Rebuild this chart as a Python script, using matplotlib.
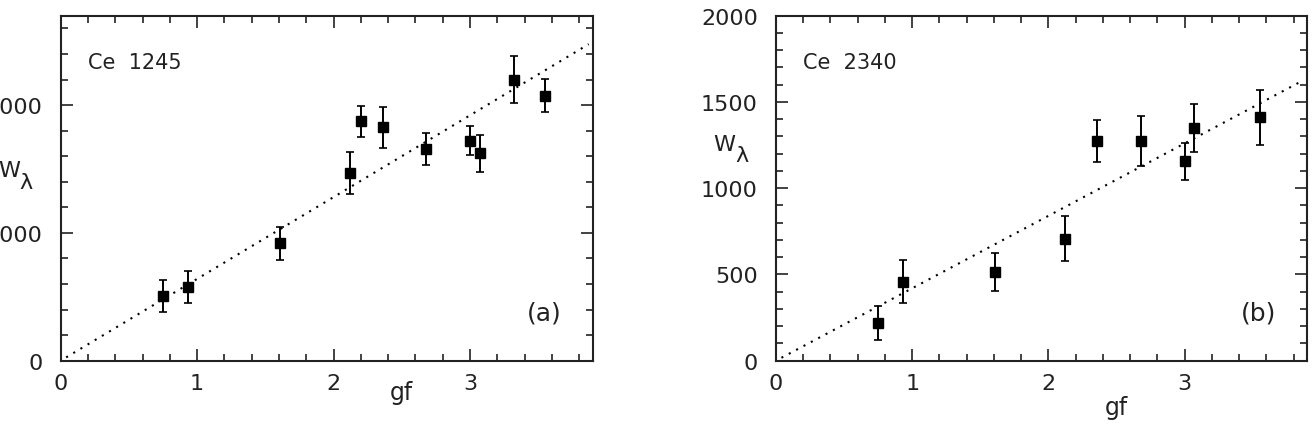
import matplotlib
matplotlib.use("Agg")
import matplotlib.pyplot as plt
from matplotlib.ticker import MultipleLocator

plt.rcParams['font.family'] = ['DejaVu Sans']

# ---- data ----
gf_a = [0.75, 0.93, 1.61, 2.12, 2.20, 2.36, 2.68, 3.00, 3.07, 3.32, 3.55]
W_a = [510, 575, 918, 1466, 1873, 1826, 1657, 1722, 1625, 2199, 2074]
err_a = [125, 125, 128, 165, 123, 163, 127, 115, 145, 184, 128]

gf_b = [0.75, 0.93, 1.61, 2.12, 2.36, 2.68, 3.00, 3.07, 3.55]
W_b = [218, 458, 516, 706, 1275, 1275, 1156, 1349, 1411]
err_b = [100, 123, 109, 130, 123, 145, 107, 137, 158]

fit_gf = [0.04, 3.87]
fit_a = [26, 2477]
fit_b = [17, 1625]

titles = ["Ce  1245", "Ce  2340"]
panel_tags = ["(a)", "(b)"]

FS = 16
COL = '#222222'

fig = plt.figure(figsize=(13.15, 4.27), dpi=100)
ax_a = fig.add_axes([0.04616, 0.1529, 0.4046, 0.8080])
ax_b = fig.add_axes([0.5901, 0.1529, 0.4040, 0.8080])

def style(ax, ymax, ymajor, yminor):
    ax.set_xlim(0, 3.9)
    ax.set_ylim(0, ymax)
    ax.xaxis.set_major_locator(MultipleLocator(1))
    ax.xaxis.set_minor_locator(MultipleLocator(0.2))
    ax.yaxis.set_major_locator(MultipleLocator(ymajor))
    ax.yaxis.set_minor_locator(MultipleLocator(yminor))
    ax.tick_params(which='both', direction='in', top=True, right=True,
                   color=COL, width=1.2, labelsize=FS, labelcolor=COL)
    ax.tick_params(which='major', length=8.6)
    ax.tick_params(which='minor', length=5)
    ax.tick_params(axis='y', pad=13)
    ax.tick_params(axis='x', pad=9)
    for s in ax.spines.values():
        s.set_linewidth(1.5)
        s.set_color(COL)

# panel a
style(ax_a, 2700, 1000, 200)
ax_a.errorbar(gf_a, W_a, yerr=err_a, fmt='s', color='black', ms=7.5,
              elinewidth=1.4, capsize=3, capthick=1.2)
ax_a.plot(fit_gf, fit_a, color='black', linestyle=(0, (1, 3)), lw=1.5)
ax_a.text(0.2, 2337, titles[0], fontsize=FS - 1, color=COL, ha='left', va='center')
ax_a.text(3.67, 381, panel_tags[0], fontsize=FS + 2, color=COL, ha='right', va='center')
ax_a.text(2.5, -0.09, "gf", fontsize=FS + 1, color=COL, ha='center', va='center',
          transform=ax_a.get_xaxis_transform())
ax_a.text(-0.118, 1490, "W", fontsize=FS, color=COL, ha='left', va='center',
          transform=ax_a.get_yaxis_transform())
ax_a.text(-0.077, 1400, "λ", fontsize=FS, color=COL, ha='left', va='center',
          transform=ax_a.get_yaxis_transform())

# panel b
style(ax_b, 2000, 500, 100)
ax_b.errorbar(gf_b, W_b, yerr=err_b, fmt='s', color='black', ms=7.5,
              elinewidth=1.4, capsize=3, capthick=1.2)
ax_b.plot(fit_gf, fit_b, color='black', linestyle=(0, (1, 3)), lw=1.5)
ax_b.text(0.2, 1733, titles[1], fontsize=FS - 1, color=COL, ha='left', va='center')
ax_b.text(3.67, 282, panel_tags[1], fontsize=FS + 2, color=COL, ha='right', va='center')
ax_b.text(2.5, -0.134, "gf", fontsize=FS + 1, color=COL, ha='center', va='center',
          transform=ax_b.get_xaxis_transform())
ax_b.text(-0.1186, 1255, "W", fontsize=FS, color=COL, ha='left', va='center',
          transform=ax_b.get_yaxis_transform())
ax_b.text(-0.077, 1195, "λ", fontsize=FS, color=COL, ha='left', va='center',
          transform=ax_b.get_yaxis_transform())

fig.savefig("out.png", dpi=100)
